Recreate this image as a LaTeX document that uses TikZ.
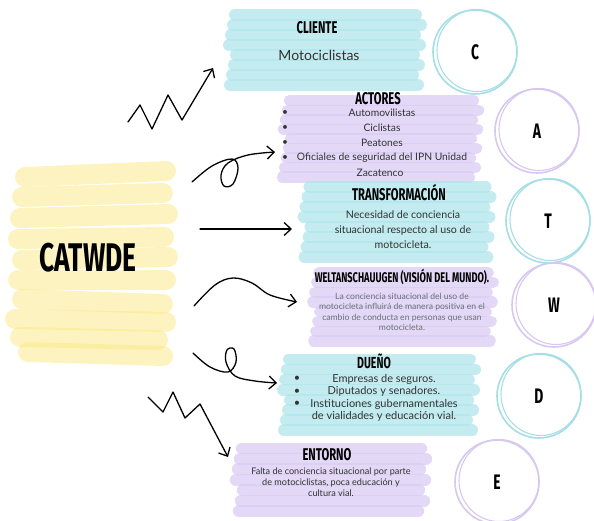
\documentclass[tikz,border=0pt]{standalone}
\usepackage{fontspec}
\setmainfont{Lato}
\newfontfamily\handfont[FakeStretch=0.66]{Fira Sans}
\usetikzlibrary{arrows.meta,calc}

\definecolor{cyanbrush}{RGB}{176,230,235}
\definecolor{lilabrush}{RGB}{218,204,244}
\definecolor{yellowbrush}{RGB}{250,232,130}
\definecolor{cyanring}{RGB}{165,222,230}
\definecolor{lilaring}{RGB}{215,200,240}
\definecolor{inktext}{RGB}{50,50,50}
\definecolor{greytext}{RGB}{110,110,120}

% brush strokes behind a box: name, colour, strokes, height
\newcommand{\brushbox}[4]{%
\foreach \i in {1,...,#3}{
\pgfmathsetmacro{\jl}{mod(\i*7,9)-4}
\pgfmathsetmacro{\jr}{mod(\i*5,11)-5}
\pgfmathsetmacro{\yy}{(\i-0.5)*#4/#3}
\pgfmathsetmacro{\lw}{#4/#3+1.5}
\draw[line width=\lw pt, line cap=round, draw=#2, opacity=0.75]
 ($(#1.north west)+(\jl+4,\yy)$) -- ($(#1.north east)+(\jr-4,\yy)$);
}}

% ring with letter: name, position, colour, letter
\newcommand{\ring}[4]{%
\node[ring, draw=#3] (#1) at #2 {#4};
\draw[#3, line width=1.1pt] ($(#1)+(2,-1.5)$) ellipse [x radius=40, y radius=41];
}

\begin{document}
\begin{tikzpicture}[x=1pt,y=-1pt,
 area/.style={inner sep=0, minimum width=#1},
 title/.style={font=\handfont\bfseries\fontsize{17}{17}\selectfont, inner sep=0},
 body/.style 2 args={font=\fontsize{#1}{#2}\selectfont, text=inktext, align=center, inner sep=0},
 ring/.style={circle, minimum size=84, line width=1.6pt, inner sep=0,
  font=\handfont\bfseries\fontsize{21}{21}\selectfont},
 arr/.style={line width=1.3pt, line cap=round, line join=round,
  -{Straight Barb[length=7pt,width=13pt,line width=1.3pt]}}]
\useasboundingbox (0,0) rectangle (594,521);

% yellow scribble
\foreach \xa/\ya/\xb/\yb in {25/177/166/171, 22/197/163/193, 20/218/168/214, 18/239/164/237,
 22/260/168/257, 18/280/166/280, 22/299/163/304, 15/319/166/322, 20/337/158/340, 28/352/163/356}{
\draw[yellowbrush, opacity=0.5, line width=20pt, line cap=round] (\xa,\ya) -- (\xb,\yb);
}
\node[inner sep=0, font=\handfont\bfseries\fontsize{40}{40}\selectfont] (catwde) at (88,258) {CATWDE};

% boxes
\node[area=192, minimum height=80] (cliente) at (324,50) {};
\node[area=195, minimum height=86] (actores) at (380,139) {};
\node[area=187, minimum height=80] (transf) at (396,222) {};
\node[area=180, minimum height=78] (welt) at (402,307) {};
\node[area=192, minimum height=81] (dueno) at (378,395) {};
\node[area=190, minimum height=73] (entorno) at (330,480) {};
\brushbox{cliente}{cyanbrush}{8}{80}
\brushbox{actores}{lilabrush}{9}{86}
\brushbox{transf}{cyanbrush}{8}{80}
\brushbox{welt}{lilabrush}{8}{78}
\brushbox{dueno}{cyanbrush}{8}{81}
\brushbox{entorno}{lilabrush}{7}{73}

% C
\node[title] (tcliente) at (317,28) {CLIENTE};
\node[body={14}{16}] (bcliente) at (319,55) {Motociclistas};
% A
\node[title] (tactores) at (378,99) {ACTORES};
\foreach \t [count=\k] in {Automovilistas, Ciclistas, Peatones, Oficiales de seguridad del IPN Unidad}{
\node[body={10.3}{12}] (act\k) at (382,98+\k*15) {\t};
\node[body={10.3}{12}] (actb\k) at (285,98+\k*15) {\textbullet};
}
\node[body={10.3}{12}] (act5) at (380,173) {Zacatenco};
% T
\node[title] (ttransf) at (399,193) {TRANSFORMACIÓN};
\node[body={10.6}{15}] (btransf) at (403,230) {Necesidad de conciencia\\situacional respecto al uso de\\motocicleta.};
% W
\node[title, font=\handfont\bfseries\fontsize{14}{14}\selectfont] (twelt) at (402,277) {WELTANSCHAUUGEN (VISIÓN DEL MUNDO).};
\node[body={8.6}{10.5}, text=greytext] (bwelt) at (402,312) {La conciencia situacional del uso de\\motocicleta influirá de manera positiva en el\\cambio de conducta en personas que usan\\motocicleta.};
% D
\node[title, font=\handfont\bfseries\fontsize{16}{16}\selectfont] (tdueno) at (374,361) {DUEÑO};
\foreach \t [count=\k] in {Empresas de seguros., Diputados y senadores., Instituciones gubernamentales}{
\node[body={11}{12.5}] (due\k) at (384,366.5+\k*12.5) {\t};
\node[body={11}{12.5}] (dueb\k) at (297,366.5+\k*12.5) {\textbullet};
}
\node[body={11}{12.5}] (due4) at (384,416.5) {de vialidades y educación vial.};
% E
\node[title] (tentorno) at (327,455) {ENTORNO};
\node[body={9.1}{10.8}] (bentorno) at (331,482) {Falta de conciencia situacional por parte\\de motociclistas, poca educación y\\cultura vial.};

% rings
\ring{rc}{(475,52)}{cyanring}{C}
\ring{ra}{(537,131)}{lilaring}{A}
\ring{rt}{(548,221)}{cyanring}{T}
\ring{rw}{(554,305)}{lilaring}{W}
\ring{rd}{(539,396)}{cyanring}{D}
\ring{re}{(497,482)}{lilaring}{E}

% arrows
\coordinate (c0) at (128,122); \coordinate (c1) at (213,68);
\coordinate (a0) at (192,182); \coordinate (a1) at (275,152);
\coordinate (t0) at (200,229); \coordinate (t1) at (292,229);
\coordinate (w0) at (194,306); \coordinate (w1) at (297,302);
\coordinate (d0) at (193,353); \coordinate (d1) at (277,383);
\coordinate (e0) at (148,397); \coordinate (e1) at (228,457);
\draw[arr] (c0) -- (140,105) -- (152,129) -- (168,95) -- (182,120) -- (c1);
\draw[arr] plot[smooth, tension=0.6] coordinates {(a0) (212,166) (232,159) (238,168) (233,184) (224,186) (221,175) (228,163) (248,155) (a1)};
\draw[arr] (t0) -- (t1);
\draw[arr] plot[smooth, tension=0.6] coordinates {(w0) (215,285) (233,278) (252,283) (270,295) (w1)};
\draw[arr] plot[smooth, tension=0.6] coordinates {(d0) (210,367) (228,372) (236,362) (234,349) (227,350) (226,362) (235,376) (255,381) (d1)};
\draw[arr] (e0) -- (163,412) -- (173,392) -- (185,418) -- (200,404) -- (e1);
\end{tikzpicture}
\end{document}
